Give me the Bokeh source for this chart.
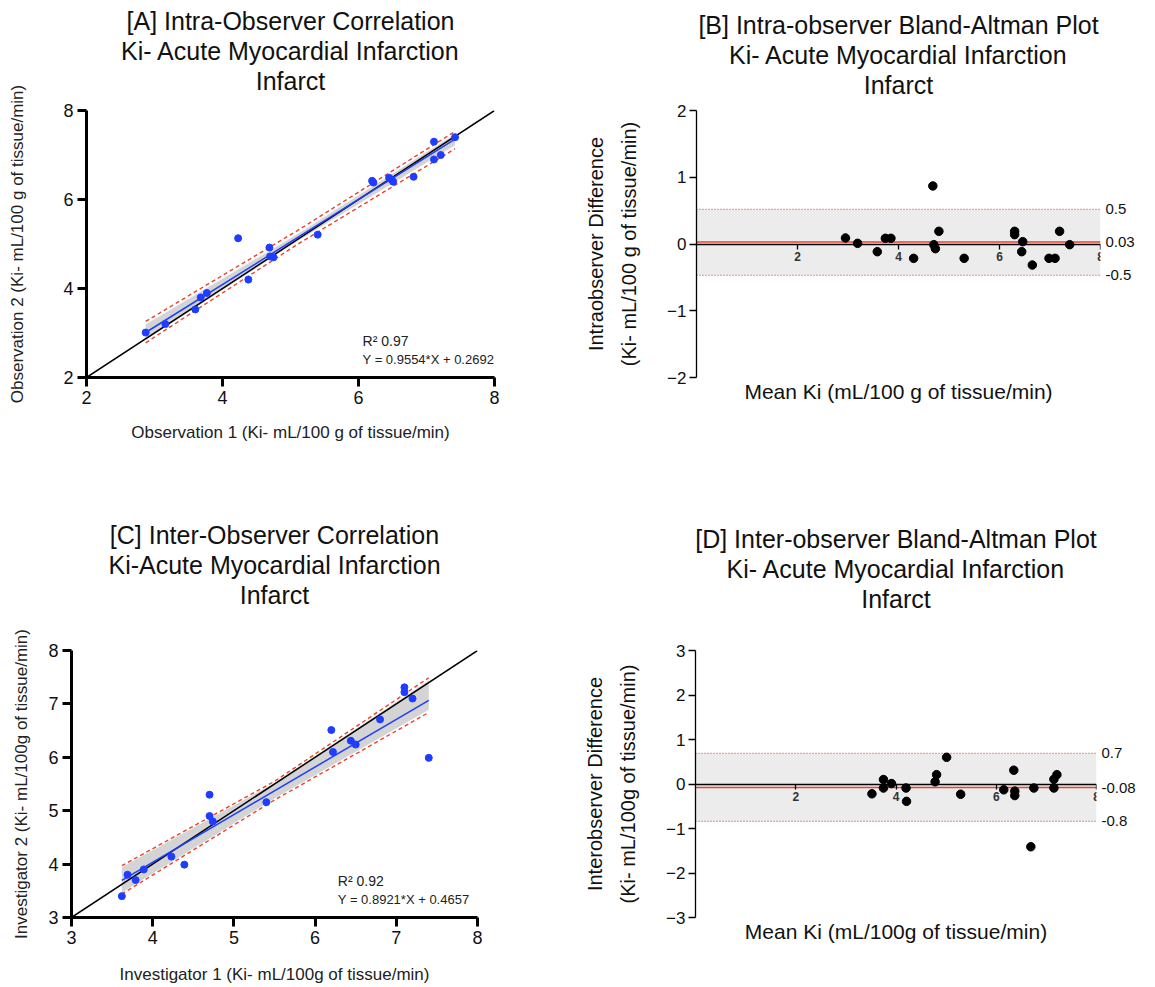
from bokeh.plotting import figure
from bokeh.layouts import row, column
from bokeh.models import FixedTicker, LinearAxis, Label, Title, Range1d
from bokeh.embed import file_html
from bokeh.resources import INLINE

FONT = "Liberation Sans"

# ---------------- data ----------------
# [A] intra-observer correlation
obs1 = [2.87, 3.16, 3.60, 3.68, 3.77, 4.23, 4.38, 4.69, 4.70, 4.75, 5.40,
        6.20, 6.22, 6.45, 6.49, 6.51, 6.81, 7.11, 7.11, 7.21, 7.42]
obs2 = [3.01, 3.20, 3.53, 3.80, 3.90, 5.13, 4.20, 4.92, 4.72, 4.70, 5.21,
        6.42, 6.38, 6.49, 6.44, 6.40, 6.51, 7.30, 6.90, 7.00, 7.40]
A_slope, A_intercept, A_r2 = 0.9554, 0.2692, 0.97
A_band_x = [2.87, 5.10, 7.42]
A_pred_lo = [2.78, 4.99, 7.14]
A_pred_hi = [3.26, 5.30, 7.53]
A_ci_lo = [2.84, 5.06, 7.22]
A_ci_hi = [3.19, 5.22, 7.47]
A_ticks = [2, 4, 6, 8]

# [B] intra-observer Bland-Altman
B_mean = [2.95, 3.19, 3.58, 3.74, 3.85, 4.30, 4.68, 4.70, 4.73, 4.80,
          5.30, 6.30, 6.30, 6.46, 6.44, 6.65, 6.98, 7.10, 7.19, 7.39]
B_diff = [0.09, 0.01, -0.115, 0.085, 0.085, -0.215, 0.87, -0.01, -0.07, 0.19,
          -0.215, 0.19, 0.14, 0.035, -0.115, -0.315, -0.215, -0.215, 0.19, -0.01]
B_limits = [0.52, 0.03, -0.47]
B_limit_labels = ["0.5", "0.03", "-0.5"]
B_yticks = [-2, -1, 0, 1, 2]

# [C] inter-observer correlation
inv1 = [3.62, 3.69, 3.79, 3.89, 4.23, 4.39, 4.70, 4.70, 4.74, 5.40,
        6.20, 6.22, 6.44, 6.50, 6.80, 7.10, 7.10, 7.20, 7.40]
inv2 = [3.40, 3.80, 3.70, 3.90, 4.14, 3.99, 5.30, 4.90, 4.80, 5.16,
        6.51, 6.10, 6.31, 6.24, 6.71, 7.31, 7.22, 7.10, 5.99]
C_slope, C_intercept, C_r2 = 0.8921, 0.4657, 0.92
C_band_x = [3.62, 5.50, 7.40]
C_pred_lo = [3.44, 5.20, 6.84]
C_pred_hi = [3.97, 5.55, 7.49]
C_ci_lo = [3.47, 5.23, 6.89]
C_ci_hi = [3.94, 5.52, 7.44]
C_ticks = [3, 4, 5, 6, 7, 8]

# [D] inter-observer Bland-Altman
D_mean = [3.52, 3.75, 3.75, 3.91, 4.20, 4.21, 4.78, 4.81, 5.01, 5.29,
          6.15, 6.35, 6.37, 6.37, 6.69, 6.75, 7.15, 7.15, 7.21]
D_diff = [-0.22, 0.10, -0.09, 0.01, -0.09, -0.39, 0.05, 0.21, 0.60, -0.23,
          -0.13, 0.31, -0.16, -0.26, -1.41, -0.09, -0.09, 0.105, 0.21]
D_limits = [0.69, -0.08, -0.84]
D_limit_labels = ["0.7", "-0.08", "-0.8"]
D_yticks = [-3, -2, -1, 0, 1, 2, 3]

BA_xticks = [2, 4, 6, 8]

BLUE = "#1f3dff"
RED = "#e8432e"


def title_props(t):
    t.align = "center"
    t.text_font = FONT
    t.text_font_size = "25px"
    t.text_font_style = "normal"
    t.text_color = "#111111"
    t.standoff = 0


def set_titles(p, lines, gap):
    # an invisible spacer title keeps the block off the frame;
    # the first line is the plot title (outermost), the rest stack outward
    spacer = Title(text=" ", text_font_size="1px", standoff=gap, text_color="white")
    p.add_layout(spacer, "above")
    p.title.text = lines[0]
    title_props(p.title)
    for txt in reversed(lines[1:]):
        t = Title(text=txt)
        title_props(t)
        p.add_layout(t, "above")


def corr_fig(x, y, slope, intercept, r2, band_x, pred_lo, pred_hi, ci_lo, ci_hi,
             ticks, titles, xlabel, ylabel, w, h, bl, br, bt, bb, ann_x, ann_y1, ann_y2,
             title_gap, xlab_standoff, ylab_standoff):
    lo, hi = ticks[0], ticks[-1]
    p = figure(width=w, height=h, x_range=Range1d(lo, hi), y_range=Range1d(lo, hi),
               output_backend="svg", toolbar_location=None,
               min_border_left=bl, min_border_right=br, min_border_top=bt, min_border_bottom=bb)
    p.outline_line_color = None
    p.xgrid.visible = False
    p.ygrid.visible = False
    set_titles(p, titles, title_gap)

    p.varea(x=band_x, y1=ci_lo, y2=ci_hi, fill_color="#d4d4d4", fill_alpha=1.0)
    p.line(x=band_x, y=pred_lo, line_color=RED, line_width=1.4, line_dash="4 3")
    p.line(x=band_x, y=pred_hi, line_color=RED, line_width=1.4, line_dash="4 3")
    p.line(x=[lo, hi], y=[lo, hi], line_color="black", line_width=1.5)
    rx = [min(x), max(x)]
    ry = [slope * v + intercept for v in rx]
    p.line(x=rx, y=ry, line_color=BLUE, line_width=1.5)
    p.scatter(x=x, y=y, size=7, fill_color=BLUE, line_color=BLUE)

    p.add_layout(Label(x=ann_x, y=ann_y1, text=f"R\u00b2 {r2:.2f}", text_font=FONT,
                       text_font_size="14px", text_baseline="middle", text_color="#222222"))
    p.add_layout(Label(x=ann_x, y=ann_y2,
                       text=f"Y = {slope:.4f}*X + {intercept:.4f}", text_font=FONT,
                       text_font_size="13px", text_baseline="middle", text_color="#222222"))

    for ax in (p.xaxis[0], p.yaxis[0]):
        ax.ticker = FixedTicker(ticks=ticks)
        ax.axis_line_width = 3
        ax.axis_line_color = "black"
        ax.major_tick_line_width = 3
        ax.major_tick_out = 9
        ax.major_tick_in = 0
        ax.minor_tick_line_color = None
        ax.major_label_text_font = FONT
        ax.major_label_text_font_size = "18px"
        ax.major_label_text_color = "#111111"
        ax.major_label_standoff = 4
        ax.axis_label_text_font = FONT
        ax.axis_label_text_font_size = "17px"
        ax.axis_label_text_font_style = "normal"
        ax.axis_label_text_color = "#222222"
    p.xaxis.axis_label = xlabel
    p.yaxis.axis_label = ylabel
    p.xaxis.axis_label_standoff = xlab_standoff
    p.yaxis.axis_label_standoff = ylab_standoff
    return p


def ba_fig(mean, diff, limits, limit_labels, yticks, titles, ylabel, xlabel,
           w, h, bl, br, bt, bb, title_gap):
    x0, x1 = 0, BA_xticks[-1]
    p = figure(width=w, height=h, x_range=Range1d(x0, x1),
               y_range=Range1d(yticks[0], yticks[-1]),
               output_backend="svg", toolbar_location=None,
               min_border_left=bl, min_border_right=br, min_border_top=bt, min_border_bottom=bb)
    p.outline_line_color = None
    p.xgrid.visible = False
    p.ygrid.visible = False
    set_titles(p, titles, title_gap)

    p.varea(x=[x0, x1], y1=[limits[2]] * 2, y2=[limits[0]] * 2, fill_color="#ececec")
    for lv in (limits[0], limits[2]):
        p.line(x=[x0, x1], y=[lv, lv], line_color="#e05a48", line_width=1.2, line_dash="1 2")
    p.line(x=[x0, x1], y=[limits[1]] * 2, line_color=RED, line_width=1.6)
    p.scatter(x=mean, y=diff, size=8.5, fill_color="black", line_color="black")

    xa = p.xaxis[0]
    xa.fixed_location = 0
    xa.ticker = FixedTicker(ticks=BA_xticks)
    xa.axis_line_width = 1.3
    xa.major_tick_out = 5
    xa.major_tick_in = 0
    xa.major_tick_line_width = 1.3
    xa.minor_tick_line_color = None
    xa.major_label_text_font = FONT
    xa.major_label_text_font_size = "12px"
    xa.major_label_text_font_style = "bold"
    xa.major_label_text_color = "#333333"
    xa.major_label_standoff = 3

    ya = p.yaxis[0]
    ya.ticker = FixedTicker(ticks=yticks)
    ya.axis_line_width = 1.3
    ya.major_tick_out = 7
    ya.major_tick_in = 0
    ya.major_tick_line_width = 1.3
    ya.minor_tick_line_color = None
    ya.major_label_text_font = FONT
    ya.major_label_text_font_size = "17px"
    ya.major_label_text_color = "#111111"
    ya.major_label_standoff = 3
    ya.axis_label = ylabel
    ya.axis_label_text_font = FONT
    ya.axis_label_text_font_size = "20px"
    ya.axis_label_text_font_style = "normal"
    ya.axis_label_text_color = "#111111"
    ya.axis_label_text_line_height = 1.5
    ya.axis_label_standoff = 24

    ra = LinearAxis(ticker=FixedTicker(ticks=limits),
                    major_label_overrides={v: s for v, s in zip(limits, limit_labels)})
    ra.axis_line_color = None
    ra.major_tick_line_color = None
    ra.minor_tick_line_color = None
    ra.major_tick_out = 0
    ra.major_tick_in = 0
    ra.major_label_standoff = 5
    ra.major_label_text_font = FONT
    ra.major_label_text_font_size = "15px"
    ra.major_label_text_color = "#111111"
    p.add_layout(ra, "right")

    p.add_layout(Title(text=xlabel, align="center", text_font=FONT, text_font_size="21px",
                       text_font_style="normal", text_color="#111111", standoff=0), "below")
    return p


pA = corr_fig(obs1, obs2, A_slope, A_intercept, A_r2, A_band_x, A_pred_lo, A_pred_hi,
              A_ci_lo, A_ci_hi, A_ticks,
              ["[A] Intra-Observer Correlation", "Ki- Acute Myocardial Infarction", "Infarct"],
              "Observation 1 (Ki- mL/100 g of tissue/min)",
              "Observation 2 (Ki- mL/100 g of tissue/min)",
              560, 495, 86, 66, 110, 113, 6.06, 2.82, 2.40, 13, 16, 33)

pB = ba_fig(B_mean, B_diff, B_limits, B_limit_labels, B_yticks,
            ["[B] Intra-observer Bland-Altman Plot", "Ki- Acute Myocardial Infarction", "Infarct"],
            "Intraobserver Difference\n(Ki- mL/100 g of tissue/min)",
            "Mean Ki (mL/100 g of tissue/min)",
            595, 495, 136, 55, 110, 118, 9)

pC = corr_fig(inv1, inv2, C_slope, C_intercept, C_r2, C_band_x, C_pred_lo, C_pred_hi,
              C_ci_lo, C_ci_hi, C_ticks,
              ["[C] Inter-Observer Correlation", "Ki-Acute Myocardial Infarction", "Infarct"],
              "Investigator 1 (Ki- mL/100g of tissue/min)",
              "Investigator 2 (Ki- mL/100g of tissue/min)",
              560, 492, 71, 83, 155, 66, 6.28, 3.68, 3.33, 39, 18, 14)

pD = ba_fig(D_mean, D_diff, D_limits, D_limit_labels, D_yticks,
            ["[D] Inter-observer Bland-Altman Plot", "Ki- Acute Myocardial Infarction", "Infarct"],
            "Interobserver Difference\n(Ki- mL/100g of tissue/min)",
            "Mean Ki (mL/100g of tissue/min)",
            595, 492, 135, 59, 155, 70, 35)

layout = column(row(pA, pB), row(pC, pD))
open("out.html", "w").write(file_html(layout, INLINE))
